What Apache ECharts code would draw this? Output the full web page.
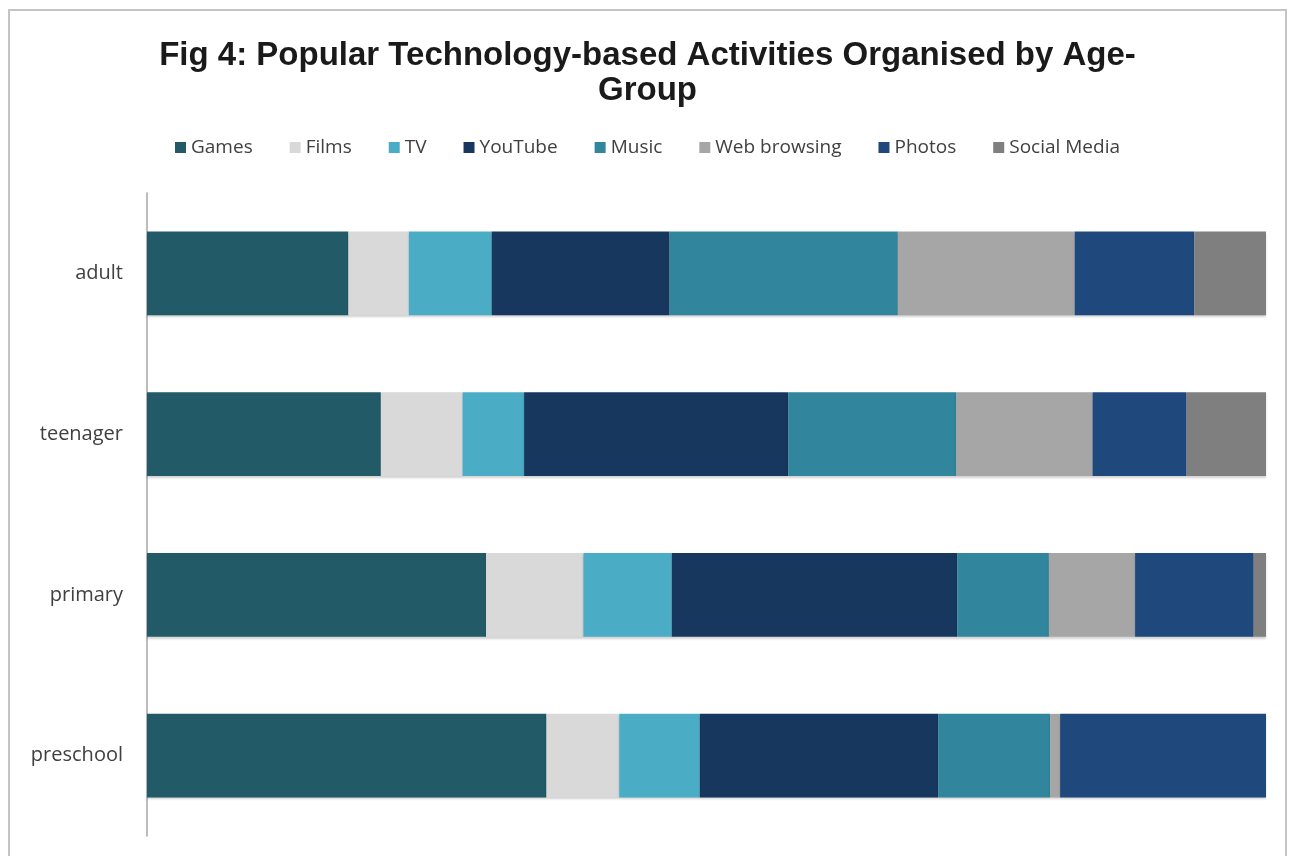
<!DOCTYPE html>
<html>
<head>
<meta charset="utf-8">
<script src="https://cdn.jsdelivr.net/npm/echarts@6/dist/echarts.min.js"></script>
<style>
  html, body { margin: 0; padding: 0; background: #ffffff; }
  #chart { width: 1295px; height: 856px; }
</style>
</head>
<body>
<div id="chart"></div>
<script>
// Age groups, top to bottom
const ageGroups = ['adult', 'teenager', 'primary', 'preschool'];

// Share of each activity per age group (%)
const games       = [18.0, 20.9, 30.3, 35.7];
const films       = [5.4, 7.3, 8.7, 6.5];
const tv          = [7.4, 5.5, 7.9, 7.2];
const youtube     = [15.9, 23.6, 25.5, 21.3];
const music       = [20.4, 15.0, 8.2, 10.0];
const webBrowsing = [15.8, 12.2, 7.7, 0.9];
const photos      = [10.7, 8.4, 10.6, 18.4];
const socialMedia = [6.4, 7.1, 1.1, 0.0];

const activityNames = ['Games', 'Films', 'TV', 'YouTube', 'Music', 'Web browsing', 'Photos', 'Social Media'];
const activityValues = [games, films, tv, youtube, music, webBrowsing, photos, socialMedia];
const activityColors = ['#225a67', '#d9d9d9', '#4bacc6', '#17375e', '#31859c', '#a6a6a6', '#1f497d', '#7f7f7f'];

const chart = echarts.init(document.getElementById('chart'), null, { renderer: 'canvas' });

const series = activityNames.map((name, i) => ({
  name: name,
  type: 'bar',
  stack: 'total',
  barCategoryGap: '48%',
  data: activityValues[i],
  itemStyle: {
    color: activityColors[i],
    shadowColor: 'rgba(0,0,0,0.18)',
    shadowOffsetY: 2,
    shadowBlur: 2
  },
  emphasis: { disabled: true }
}));

chart.setOption({
  backgroundColor: '#ffffff',
  animation: false,
  color: activityColors,
  graphic: [{
    type: 'rect',
    shape: { x: 9, y: 10, width: 1277, height: 870 },
    style: { fill: 'none', stroke: '#c4c4c4', lineWidth: 2 },
    silent: true
  }],
  title: {
    text: 'Fig 4: Popular Technology-based Activities Organised by Age-\nGroup',
    left: 'center',
    top: 33,
    textStyle: {
      fontFamily: 'Liberation Sans, Arial, sans-serif',
      fontWeight: 'bold',
      fontSize: 33,
      lineHeight: 35,
      color: '#1a1a1a'
    }
  },
  legend: {
    top: 133,
    left: 'center',
    itemWidth: 11,
    itemHeight: 11,
    itemGap: 37,
    icon: 'rect',
    selectedMode: false,
    textStyle: {
      fontFamily: 'Open Sans, Lato, sans-serif',
      fontSize: 19,
      color: '#404040',
      padding: [0, 0, 0, 0]
    },
    data: activityNames
  },
  grid: {
    left: 147,
    right: 29,
    top: 193,
    bottom: 20,
    containLabel: false
  },
  xAxis: {
    type: 'value',
    min: 0,
    max: 100,
    show: false
  },
  yAxis: {
    type: 'category',
    inverse: true,
    data: ageGroups,
    axisLine: { show: true, lineStyle: { color: '#a6a6a6', width: 1.5 } },
    axisTick: { show: false },
    axisLabel: {
      margin: 24,
      fontFamily: 'Open Sans, Lato, sans-serif',
      fontSize: 20,
      color: '#404040'
    }
  },
  series: series
});
</script>
</body>
</html>
